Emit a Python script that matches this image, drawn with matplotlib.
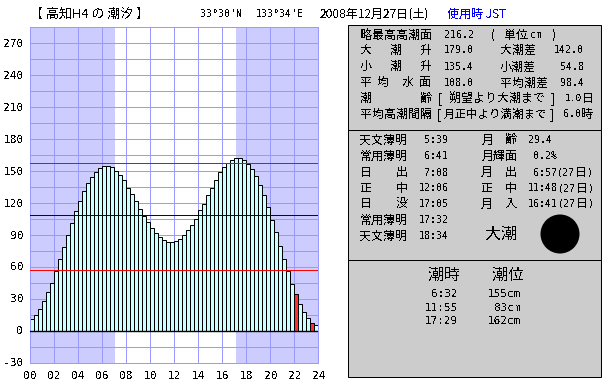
import numpy as np
from matplotlib import pyplot as plt
from matplotlib.patches import Rectangle, Circle

plt.rcParams['font.family'] = ['Noto Sans CJK JP', 'DejaVu Sans']
plt.rcParams['text.antialiased'] = False

# tide height every 20 minutes (cm)
tide = [10.6, 14.4, 20, 27.5, 36, 45, 55.6, 67, 78, 89.4, 100.6, 112,
        121, 130.6, 138, 144, 149, 152, 154, 154, 153, 150, 146, 141,
        134, 128, 121, 114, 107, 101.6, 96, 91, 87.5, 84.7, 83, 83,
        84, 85.6, 89.4, 94, 98.75, 105, 113, 119, 127, 134, 141, 148.4,
        153, 157, 160, 161.6, 161.6, 160, 156, 151, 145, 136, 127, 115.6,
        104, 92, 79, 67, 56, 44, 34, 24.7, 17, 11.6, 6.9, 5]
red_bars = [66, 70]
ref_red = [157, 57]
ref_navy = [108]
sunrise = 7.07
sunset = 17.14
yticks = [-30, 0, 30, 60, 90, 120, 150, 180, 210, 240, 270]
xticks = [0, 2, 4, 6, 8, 10, 12, 14, 16, 18, 20, 22, 24]

title_place = '【 高知H4 の 潮汐 】'
lat_text = "33°30'N"
lon_text = "133°34'E"
date_text = '2008年12月27日(土)'
tz_text = '使用時 JST'
tide_times = ['6:32', '11:55', '17:29']
tide_levels = ['155cm', '83cm', '162cm']

GRID = '#9999FF'
NIGHT = '#CCCCFF'
PANEL = '#CCCCCC'
MONO = ['DejaVu Sans Mono', 'Noto Sans CJK JP']
PX = 0.72  # line width of one pixel at dpi 100

fig = plt.figure(figsize=(6.1, 3.85), dpi=100)

# background layer in pixel coordinates for the panels and text
bg = fig.add_axes([0, 0, 1, 1])
bg.set_xlim(0, 610)
bg.set_ylim(385, 0)
bg.axis('off')


def put(x, y, s, px=12, ha='left', color='black', family=None):
    bg.text(x, y, s, fontsize=px * 0.72, ha=ha, va='center', color=color,
            family=family if family else plt.rcParams['font.family'])


def num(x, y, s, ha='left', px=10):
    put(x, y, s, px=px, ha=ha, family=MONO)


for top, bottom in [(24.5, 130), (130, 260), (260, 377)]:
    bg.add_patch(Rectangle((347.5, top), 253, bottom - top, fc=PANEL, ec='black', lw=PX))

# header
put(30, 14, title_place, px=13)
num(200, 14, lat_text)
num(256, 14, lon_text)
put(320, 14, date_text)
put(447, 14, tz_text, color='#0000FF')

# panel 1
put(360, 35, '略最高高潮面')
num(444, 35, '216.2')
put(491, 35, '(')
put(504, 35, '単位')
num(530, 35, 'cm')
put(552, 35, ')')
for y, head, val, name, val2, vx in [(50.3, '大', '179.0', '大潮差', '142.0', 554),
                                     (66.7, '小', '135.4', '小潮差', '54.8', 560)]:
    put(360, y, head)
    put(390, y, '潮')
    put(420, y, '升')
    num(444, y, val)
    put(500, y, name)
    num(vx, y, val2)
for x, ch in zip([360, 377, 402, 419], '平均水面'):
    put(x, 82.7, ch)
num(444, 82.7, '108.0')
put(500, 82.7, '平均潮差')
num(560, 82.7, '98.4')
put(360, 98.3, '潮')
put(420, 98.3, '齢')
put(438, 98.3, '[')
put(450, 98.3, '朔望より大潮まで')
put(551, 98.3, ']')
num(565, 98.3, '1.0', px=9.5)
put(582, 98.3, '日')
put(360, 114.3, '平均高潮間隔')
put(437, 114.3, '[')
put(444, 114.3, '月正中より満潮まで', px=11.5)
put(550, 114.3, ']')
num(563, 114.3, '6.0')
put(581, 114.3, '時')

# panel 2
sun_rows = [(140, '天文薄明', None, '5:39'), (156, '常用薄明', None, '6:41'),
            (172.7, '日', '出', '7:08'), (188.3, '正', '中', '12:06'),
            (204, '日', '没', '17:05'), (220, '常用薄明', None, '17:32'),
            (236, '天文薄明', None, '18:34')]
for y, a, b, t in sun_rows:
    put(360, y, a)
    if b:
        put(396, y, b)
    num(448.5, y, t, ha='right')
put(482, 140, '月')
put(505, 140, '齢')
num(528, 140, '29.4')
put(482, 156, '月輝面')
num(533, 156, '0.2%')
for y, a, b, t, tx in [(172.7, '月', '出', '6:57', 533), (188.3, '正', '中', '11:48', 528),
                       (204, '月', '入', '16:41', 528)]:
    put(481, y, a)
    put(505, y, b)
    num(tx, y, t)
    num(tx + len(t) * 6, y, '(27')
    put(tx + len(t) * 6 + 18, y, '日')
    num(tx + len(t) * 6 + 30, y, ')')
put(485, 234, '大潮', px=16)
bg.add_patch(Circle((560, 234), 19.5, fc='black', ec='none'))

# panel 3
put(428, 275, '潮時', px=16)
put(492, 275, '潮位', px=16)
for y, t, lv in zip([294, 308, 320.7], tide_times, tide_levels):
    num(458, y, t, ha='right', px=11)
    num(521, y, lv, ha='right', px=11)

# tide chart
ax = fig.add_axes([30.4 / 610, (385 - 362.5) / 385, 288 / 610, 336 / 385])
ax.patch.set_facecolor('white')
ax.set_xlim(0, 24)
ax.set_ylim(-30, 285)
ax.axvspan(0, sunrise, color=NIGHT, lw=0, zorder=0)
ax.axvspan(sunset, 24, color=NIGHT, lw=0, zorder=0)
ax.set_xticks(xticks)
ax.set_xticklabels(['%02d' % h for h in xticks], family=MONO, fontsize=8)
ax.set_yticks(np.arange(-30, 286, 15), minor=True)
ax.set_yticks(yticks)
ax.set_yticklabels([str(v) for v in yticks], family=MONO, fontsize=8)
ax.tick_params(which='both', length=0)
ax.tick_params(axis='x', pad=6)
ax.tick_params(axis='y', pad=5)
ax.grid(True, which='both', color=GRID, lw=PX, zorder=1)
ax.set_axisbelow(True)
for spine in ax.spines.values():
    spine.set_color(GRID)
    spine.set_linewidth(PX)

hours = np.arange(len(tide)) / 3
colors = ['#FF3030' if i in red_bars else '#CCFFFF' for i in range(len(tide))]
ax.bar(hours, tide, width=1 / 3, align='edge', color=colors, edgecolor='black', lw=PX, zorder=2)
ax.axhline(0, color='black', lw=1.0, zorder=3)
for v in ref_red:
    ax.axhline(v, color='#FF0000', lw=PX, zorder=4)
for v in ref_navy:
    ax.axhline(v, color='#000080', lw=PX, zorder=4)

fig.savefig('out.png', dpi=100)
